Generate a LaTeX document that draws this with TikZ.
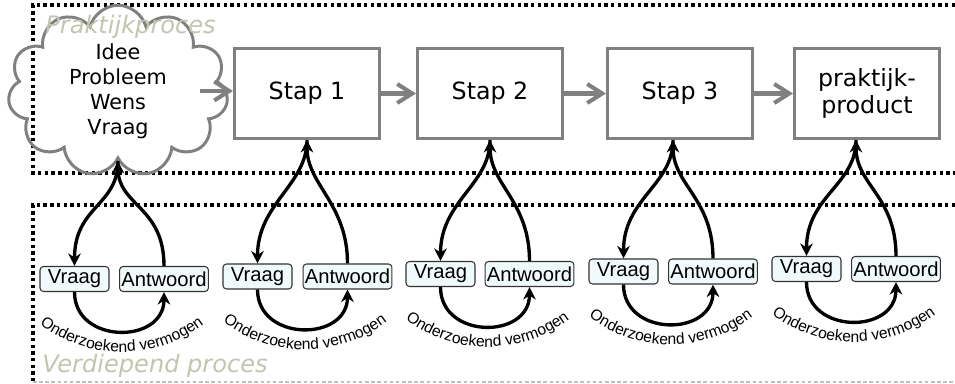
\documentclass[tikz,border=0pt]{standalone}
\usepackage{fontspec}
\setmainfont{DejaVu Sans}[ItalicFont = DejaVu Sans Oblique]
\newfontfamily\arialfont{Liberation Sans}
\usepackage{xcolor}
\usepackage{tikz}
\usetikzlibrary{shapes.symbols, arrows.meta, decorations.text, calc}

\definecolor{proceskleur}{RGB}{196,196,176}
\definecolor{vakkleur}{RGB}{240,250,250}

\begin{document}
\begin{tikzpicture}[
        stapbox/.style = {draw = gray, line width = 1.7pt, minimum width = 2.9cm, minimum height = 1.8cm, align = center, font = \fontsize{13.5}{15.4}\selectfont},
        vabox/.style = {draw = black!80, fill = vakkleur, rounded corners = 2pt, line width = 0.6pt, minimum height = 0.5cm, inner sep = 1pt, font = \arialfont\fontsize{11.5}{12}\selectfont},
        flow/.style = {draw = gray, line width = 2.3pt, -{Straight Barb[length = 3mm, width = 3.8mm]}},
        lus/.style = {draw, line width = 1.9pt, -{Stealth[length = 2.5mm, width = 2.5mm]}},
        frame/.style = {line width = 1.9pt, dash pattern = on 1.9pt off 1.9pt},
        proces/.style = {text = proceskleur, inner sep = 0pt, font = \itshape\fontsize{13.7}{16}\selectfont},
        ozv/.style = {decorate, decoration = {text along path, text align = center, text = {|\arialfont\fontsize{8.9}{10}\selectfont|Onderzoekend vermogen}}}
    ]
        \useasboundingbox (0, 0) rectangle (19.1, 7.68);
        % kaders
        \draw [frame] (19.1, 7.58) -- (0.66, 7.58) -- (0.66, 4.22) -- (19.1, 4.22);
        \draw [frame] (19.1, 3.58) -- (0.66, 3.58) -- (0.66, 0);
        \draw [gray!50, line width = 0.6pt, dash pattern = on 2pt off 1.5pt] (0.66, 0.04) -- (19.1, 0.04);

        % praktijkproces
        \node (idee) at (2.36, 5.86) [cloud, draw = gray, solid, line width = 1.7pt, cloud puffs = 11, aspect = 1.47, minimum width = 4.4cm, minimum height = 2.96cm, inner sep = 0pt, align = center, font = \fontsize{11.8}{14.2}\selectfont] {Idee\\Probleem\\Wens\\Vraag};
        \node (stap1) at (6.14, 5.81) [stapbox] {Stap 1};
        \node (stap2) at (9.80, 5.81) [stapbox] {Stap 2};
        \node (stap3) at (13.60, 5.81) [stapbox] {Stap 3};
        \node (product) at (17.34, 5.81) [stapbox] {praktijk-\\product};
        \node (praktijk) at (0.9, 7.0) [proces, anchor = base west] {Praktijkproces};
        \draw [flow] ([xshift = -5.5mm]idee.east) -- (idee.east -| stap1.west);
        \draw [flow] (stap1) -- (stap2);
        \draw [flow] (stap2) -- (stap3);
        \draw [flow] (stap3) -- (product);

        % verdiepend proces
        \node (v1) at (1.49, 2.10) [vabox, minimum width = 1.38cm] {Vraag};
        \node (a1) at (3.28, 2.10) [vabox, minimum width = 1.76cm] {Antwoord};
        \node (v2) at (5.15, 2.15) [vabox, minimum width = 1.38cm] {Vraag};
        \node (a2) at (6.95, 2.15) [vabox, minimum width = 1.76cm] {Antwoord};
        \node (v3) at (8.81, 2.20) [vabox, minimum width = 1.38cm] {Vraag};
        \node (a3) at (10.59, 2.20) [vabox, minimum width = 1.76cm] {Antwoord};
        \node (v4) at (12.47, 2.25) [vabox, minimum width = 1.38cm] {Vraag};
        \node (a4) at (14.26, 2.25) [vabox, minimum width = 1.76cm] {Antwoord};
        \node (v5) at (16.13, 2.30) [vabox, minimum width = 1.38cm] {Vraag};
        \node (a5) at (17.92, 2.30) [vabox, minimum width = 1.76cm] {Antwoord};
        \node (verdiepend) at (0.84, 0.22) [proces, anchor = base west] {Verdiepend proces};

        \coordinate (t1) at (idee.south);
        \coordinate (t2) at (stap1.south);
        \coordinate (t3) at (stap2.south);
        \coordinate (t4) at ([xshift = -1.4mm]stap3.south);
        \coordinate (t5) at ([xshift = -2.2mm]product.south);

        \draw [lus] (t1) .. controls +(0, -0.9) and +(0, 1.2) .. (v1.north);
        \draw [lus] (a1.north) .. controls +(0, 1.2) and +(0, -0.9) .. (t1);
        \draw [lus] (v1.south) .. controls +(0, -1.05) and +(0, -1.05) .. (a1.south);
        \draw [lus] (t2) .. controls +(0, -0.9) and +(0, 1.2) .. (v2.north);
        \draw [lus] (a2.north) .. controls +(0, 1.2) and +(0, -0.9) .. (t2);
        \draw [lus] (v2.south) .. controls +(0, -1.05) and +(0, -1.05) .. (a2.south);
        \draw [lus] (t3) .. controls +(0, -0.9) and +(0, 1.2) .. (v3.north);
        \draw [lus] (a3.north) .. controls +(0, 1.2) and +(0, -0.9) .. (t3);
        \draw [lus] (v3.south) .. controls +(0, -1.05) and +(0, -1.05) .. (a3.south);
        \draw [lus] (t4) .. controls +(0, -0.9) and +(0, 1.2) .. (v4.north);
        \draw [lus] (a4.north) .. controls +(0, 1.2) and +(0, -0.9) .. (t4);
        \draw [lus] (v4.south) .. controls +(0, -1.05) and +(0, -1.05) .. (a4.south);
        \draw [lus] (t5) .. controls +(0, -0.9) and +(0, 1.2) .. (v5.north);
        \draw [lus] (a5.north) .. controls +(0, 1.2) and +(0, -0.9) .. (t5);
        \draw [lus] (v5.south) .. controls +(0, -1.05) and +(0, -1.05) .. (a5.south);

        % tekst langs de bogen
        \coordinate (o1) at ($(v1)!0.5!(a1) + (0.05, 1.24)$);
        \coordinate (o2) at ($(v2)!0.5!(a2) + (0.05, 1.24)$);
        \coordinate (o3) at ($(v3)!0.5!(a3) + (0.05, 1.24)$);
        \coordinate (o4) at ($(v4)!0.5!(a4) + (0.05, 1.24)$);
        \coordinate (o5) at ($(v5)!0.5!(a5) + (0.05, 1.24)$);
        \path [ozv] ([shift = {(222:2.7)}]o1) arc [start angle = 222, end angle = 318, radius = 2.7];
        \path [ozv] ([shift = {(222:2.7)}]o2) arc [start angle = 222, end angle = 318, radius = 2.7];
        \path [ozv] ([shift = {(222:2.7)}]o3) arc [start angle = 222, end angle = 318, radius = 2.7];
        \path [ozv] ([shift = {(222:2.7)}]o4) arc [start angle = 222, end angle = 318, radius = 2.7];
        \path [ozv] ([shift = {(222:2.7)}]o5) arc [start angle = 222, end angle = 318, radius = 2.7];
    \end{tikzpicture}
\end{document}
